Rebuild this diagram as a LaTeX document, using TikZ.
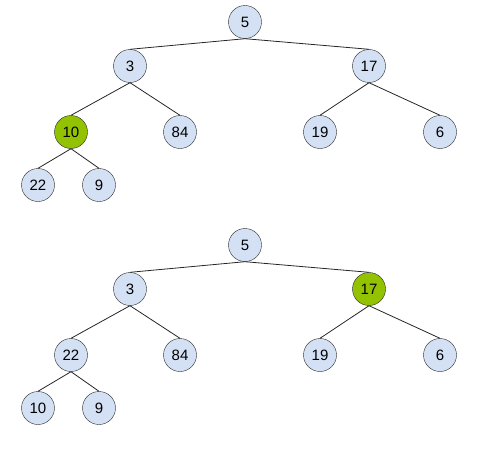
\documentclass[tikz,border=0pt]{standalone}
\usepackage{fontspec}
\setmainfont{Liberation Sans}
\definecolor{nodeblue}{HTML}{D4E1F5}
\definecolor{nodegreen}{RGB}{146,194,0}
\begin{document}
\begin{tikzpicture}[x=1pt,y=-1pt,
  hnode/.style={circle,draw=black!85,fill=nodeblue,minimum size=33pt,inner sep=0pt,font=\fontsize{15}{15}\selectfont},
  gnode/.style={hnode,fill=nodegreen},
  edge/.style={draw=black!85,line width=0.8pt}]
\useasboundingbox (0,0) rectangle (486,452);
% Tree 1
\node[hnode] (a5) at (245,22) {5};
\node[hnode] (a3) at (130,66) {3};
\node[hnode] (a17) at (369,66) {17};
\node[gnode] (a10) at (71,132) {10};
\node[hnode] (a84) at (180,132) {84};
\node[hnode] (a19) at (320,132) {19};
\node[hnode] (a6) at (440,132) {6};
\node[hnode] (a22) at (38,185) {22};
\node[hnode] (a9) at (99,185) {9};
\draw[edge] (a5.south) -- (a3.north);
\draw[edge] (a5.south) -- (a17.north);
\draw[edge] (a3.south) -- (a10.north);
\draw[edge] (a3.south) -- (a84.north);
\draw[edge] (a17.south) -- (a19.north);
\draw[edge] (a17.south) -- (a6.north);
\draw[edge] (a10.south) -- (a22.north);
\draw[edge] (a10.south) -- (a9.north);
% Tree 2
\node[hnode] (b5) at (245,245) {5};
\node[hnode] (b3) at (130,289) {3};
\node[gnode] (b17) at (369,289) {17};
\node[hnode] (b22) at (71,355) {22};
\node[hnode] (b84) at (180,355) {84};
\node[hnode] (b19) at (320,355) {19};
\node[hnode] (b6) at (440,355) {6};
\node[hnode] (b10) at (38,408) {10};
\node[hnode] (b9) at (99,408) {9};
\draw[edge] (b5.south) -- (b3.north);
\draw[edge] (b5.south) -- (b17.north);
\draw[edge] (b3.south) -- (b22.north);
\draw[edge] (b3.south) -- (b84.north);
\draw[edge] (b17.south) -- (b19.north);
\draw[edge] (b17.south) -- (b6.north);
\draw[edge] (b22.south) -- (b10.north);
\draw[edge] (b22.south) -- (b9.north);
\end{tikzpicture}
\end{document}
